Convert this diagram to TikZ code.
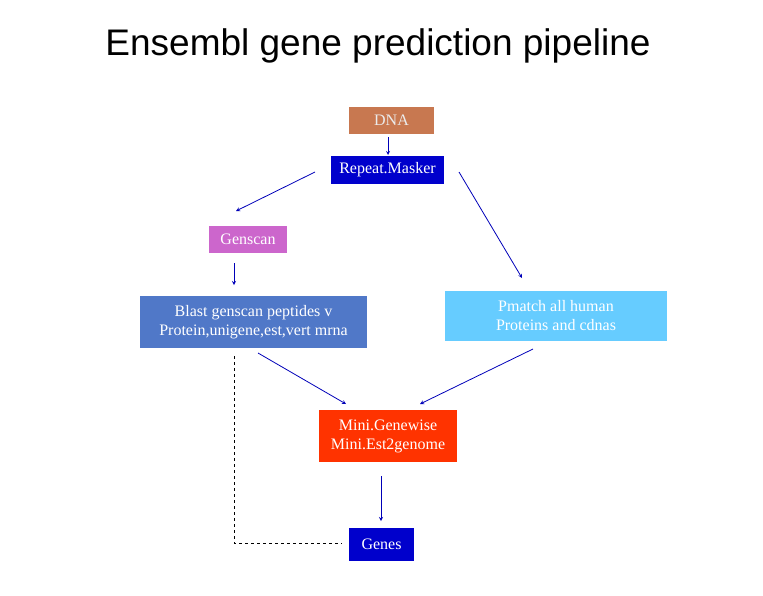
\documentclass[tikz,border=0pt]{standalone}
\usepackage{fontspec}
\setmainfont{Liberation Serif}
\newfontfamily\titlefont{Liberation Sans}
\usetikzlibrary{positioning}
\definecolor{dnabrown}{RGB}{200,120,80}
\definecolor{maskblue}{RGB}{0,0,204}
\definecolor{genorchid}{RGB}{204,102,204}
\definecolor{blastblue}{RGB}{80,120,200}
\definecolor{pmatchblue}{RGB}{102,204,255}
\definecolor{minired}{RGB}{255,51,0}
\tikzset{box/.style={inner sep=0pt, text=white, font=\fontsize{16}{19}\selectfont, align=center},
         flow/.style={->, >=stealth, thick, draw=maskblue!90!black}}
\begin{document}
\begin{tikzpicture}[x=1pt,y=-1pt]
	\useasboundingbox (0,0) rectangle (763,595);

	\node (title) at (378,46) {\titlefont\fontsize{37}{40}\selectfont Ensembl gene prediction pipeline};

	\node[box, fill=dnabrown, text=white!92!black, minimum width=85, minimum height=27] (dna) at (391.5,120.5) {DNA};
	\node[box, fill=maskblue, minimum width=113, minimum height=28] (rm) at (387.5,170) {Repeat.Masker};
	\node[box, fill=genorchid, minimum width=78, minimum height=27] (gs) at (248,239.5) {Genscan};
	\node[box, fill=blastblue, minimum width=227, minimum height=52] (blast) at (253.5,322) {Blast genscan peptides v\\Protein,unigene,est,vert mrna};
	\node[box, fill=pmatchblue, minimum width=222, minimum height=50] (pm) at (556,316) {Pmatch all human\\Proteins and cdnas};
	\node[box, fill=minired, minimum width=138, minimum height=52] (mini) at (388,436) {Mini.Genewise\\Mini.Est2genome};
	\node[box, fill=maskblue, minimum width=65, minimum height=33] (genes) at (381.5,544.5) {Genes};

	% arrow ends
	\coordinate (dnaD) at (388,137);
	\coordinate (rmU) at (388,155);
	\coordinate (rmL) at (315,172);
	\coordinate (rmR) at (459,172);
	\coordinate (gsT) at (236,211);
	\coordinate (pmT) at (522,278);
	\coordinate (gsD) at (234,263);
	\coordinate (blU) at (234,285);
	\coordinate (blD) at (258,353);
	\coordinate (pmD) at (533,349);
	\coordinate (miL) at (346,404);
	\coordinate (miR) at (420,404);
	\coordinate (miD) at (381,476);
	\coordinate (geU) at (381,521);
	\coordinate (dashU) at (234,356);
	\coordinate (corner) at (234,543);

	\draw[flow] (dnaD) -- (rmU);
	\draw[flow] (rmL) -- (gsT);
	\draw[flow] (rmR) -- (pmT);
	\draw[flow] (gsD) -- (blU);
	\draw[flow] (blD) -- (miL);
	\draw[flow] (pmD) -- (miR);
	\draw[flow] (miD) -- (geU);

	\draw[dashed, thin] (dashU) -- (corner) -- ([xshift=-7pt]genes.west |- corner);
\end{tikzpicture}
\end{document}
